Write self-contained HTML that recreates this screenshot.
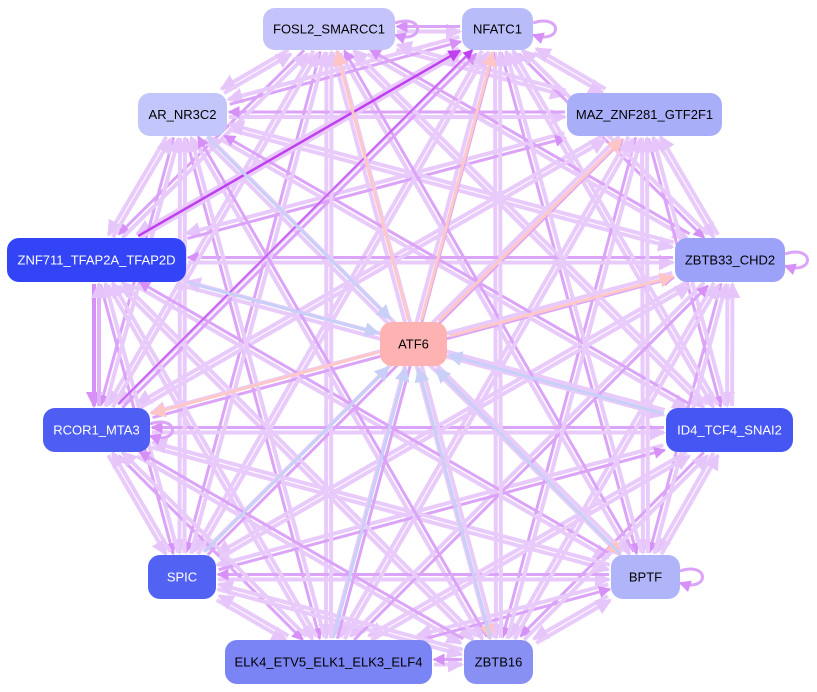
<!DOCTYPE html>
<html><head><meta charset="utf-8"><style>
html,body{margin:0;padding:0;background:#fff;}
svg{display:block;font-family:"Liberation Sans",sans-serif;}
</style></head><body>
<svg id="s" width="817" height="692" xmlns="http://www.w3.org/2000/svg">
<defs>
<marker id="mL" markerWidth="4" markerHeight="4" refX="3.5" refY="2" orient="auto" markerUnits="strokeWidth"><path d="M0,0L4,2L0,4z" fill="#e6c6fa"/></marker>
<marker id="mM" markerWidth="4" markerHeight="4" refX="3.5" refY="2" orient="auto" markerUnits="strokeWidth"><path d="M0,0L4,2L0,4z" fill="#d690f8"/></marker>
<marker id="mD" markerWidth="5" markerHeight="5" refX="4.5" refY="2.5" orient="auto" markerUnits="strokeWidth"><path d="M0,0L5,2.5L0,5z" fill="#c040f0"/></marker>
<marker id="mP" markerWidth="5" markerHeight="5" refX="4.5" refY="2.5" orient="auto" markerUnits="strokeWidth"><path d="M0,0L5,2.5L0,5z" fill="#ffc4c4"/></marker>
<marker id="mB" markerWidth="5" markerHeight="5" refX="4.5" refY="2.5" orient="auto" markerUnits="strokeWidth"><path d="M0,0L5,2.5L0,5z" fill="#c8d0f8"/></marker>
</defs>
<g id="edges"></g>
<g id="nodes"></g>
</svg>
<script>
var N={
FOSL2:[263,8,132,42,"#c4c4fa","#000","FOSL2_SMARCC1"],
NFATC1:[462,8,71,42,"#b8bcf8","#000","NFATC1"],
AR:[138,93,89,43,"#c2c6fa","#000","AR_NR3C2"],
MAZ:[567,93,155,43,"#a8aef8","#000","MAZ_ZNF281_GTF2F1"],
ZNF:[7,238,179,44,"#3344f6","#fff","ZNF711_TFAP2A_TFAP2D"],
ZBTB33:[675,238,110,44,"#9ca2f8","#000","ZBTB33_CHD2"],
ATF6:[380,322,67,44,"#ffb2b2","#000","ATF6"],
RCOR1:[43,408,107,44,"#4e5ef2","#fff","RCOR1_MTA3"],
ID4:[666,408,127,44,"#4656f2","#fff","ID4_TCF4_SNAI2"],
SPIC:[148,555,68,44,"#5262f2","#fff","SPIC"],
BPTF:[611,555,69,44,"#b0b4f8","#000","BPTF"],
ELK4:[225,640,207,44,"#7a84f4","#000","ELK4_ETV5_ELK1_ELK3_ELF4"],
ZBTB16:[464,640,69,44,"#8890f4","#000","ZBTB16"]};
function c(k){var n=N[k];return [n[0]+n[2]/2,n[1]+n[3]/2];}
function clip(k,fx,fy){var n=N[k],p=c(k),dx=fx-p[0],dy=fy-p[1];var hw=n[2]/2+2,hh=n[3]/2+2;var t=Math.min(Math.abs(dx)>0?hw/Math.abs(dx):1e9,Math.abs(dy)>0?hh/Math.abs(dy):1e9);return [p[0]+dx*t,p[1]+dy*t];}
var E=document.getElementById("edges"),ns="http://www.w3.org/2000/svg";
function line(a,b,col,w,m,off){var pa=c(a),pb=c(b);off=off||0;var dx=pb[0]-pa[0],dy=pb[1]-pa[1],L=Math.hypot(dx,dy),ox=-dy/L*off,oy=dx/L*off;
var s=clip(a,pb[0],pb[1]),e=clip(b,pa[0],pa[1]);var l=document.createElementNS(ns,"line");
l.setAttribute("x1",s[0]+ox);l.setAttribute("y1",s[1]+oy);l.setAttribute("x2",e[0]+ox);l.setAttribute("y2",e[1]+oy);
l.setAttribute("stroke",col);l.setAttribute("stroke-width",w);if(m)l.setAttribute("marker-end","url(#"+m+")");E.appendChild(l);}
var P=["FOSL2","NFATC1","AR","MAZ","ZNF","ZBTB33","RCOR1","ID4","SPIC","BPTF","ELK4","ZBTB16"];
var i,j,k=0;
for(i=0;i<P.length;i++)for(j=0;j<P.length;j++){if(i==j)continue;k++;
var med=(k%4==0);line(P[i],P[j],med?"#dca4f8":"#e9cbfb",med?3:4,med?"mM":"mL",2.5);}
line("ZNF","RCOR1","#d690f8",4,"mM",2.5);line("RCOR1","ZNF","#e0b0f8",4,"mL",2.5);
line("ZNF","NFATC1","#c040f0",2.5,"mD",0);line("RCOR1","NFATC1","#c860f2",2,"mD",-3);
["FOSL2","NFATC1","MAZ","ZBTB33","RCOR1","BPTF","ZBTB16"].forEach(function(t){line("ATF6",t,"#ffc8c8",3,"mP",1.5);});
["ZNF","ID4","SPIC","ZBTB16","ELK4","AR","BPTF"].forEach(function(t){line(t,"ATF6","#c8d0f8",3,"mB",-1.5);});
// self loops
function loop(x,y){var p=document.createElementNS(ns,"path");p.setAttribute("d","M"+x+","+(y-6)+"C"+(x+30)+","+(y-16)+" "+(x+30)+","+(y+16)+" "+x+","+(y+6));p.setAttribute("fill","none");p.setAttribute("stroke","#dca4f8");p.setAttribute("stroke-width",3);p.setAttribute("marker-end","url(#mM)");E.appendChild(p);}
loop(533,29);loop(785,260);loop(150,430);loop(680,577);loop(395,29);
var G=document.getElementById("nodes");
for(var key in N){var n=N[key];var r=document.createElementNS(ns,"rect");r.setAttribute("x",n[0]);r.setAttribute("y",n[1]);r.setAttribute("width",n[2]);r.setAttribute("height",n[3]);r.setAttribute("rx",12);r.setAttribute("fill",n[4]);G.appendChild(r);
var t=document.createElementNS(ns,"text");t.setAttribute("x",n[0]+n[2]/2);t.setAttribute("y",n[1]+n[3]/2+4.5);t.setAttribute("text-anchor","middle");t.setAttribute("font-size","13");t.setAttribute("fill",n[5]);t.textContent=n[6];G.appendChild(t);}
</script>
</body></html>
